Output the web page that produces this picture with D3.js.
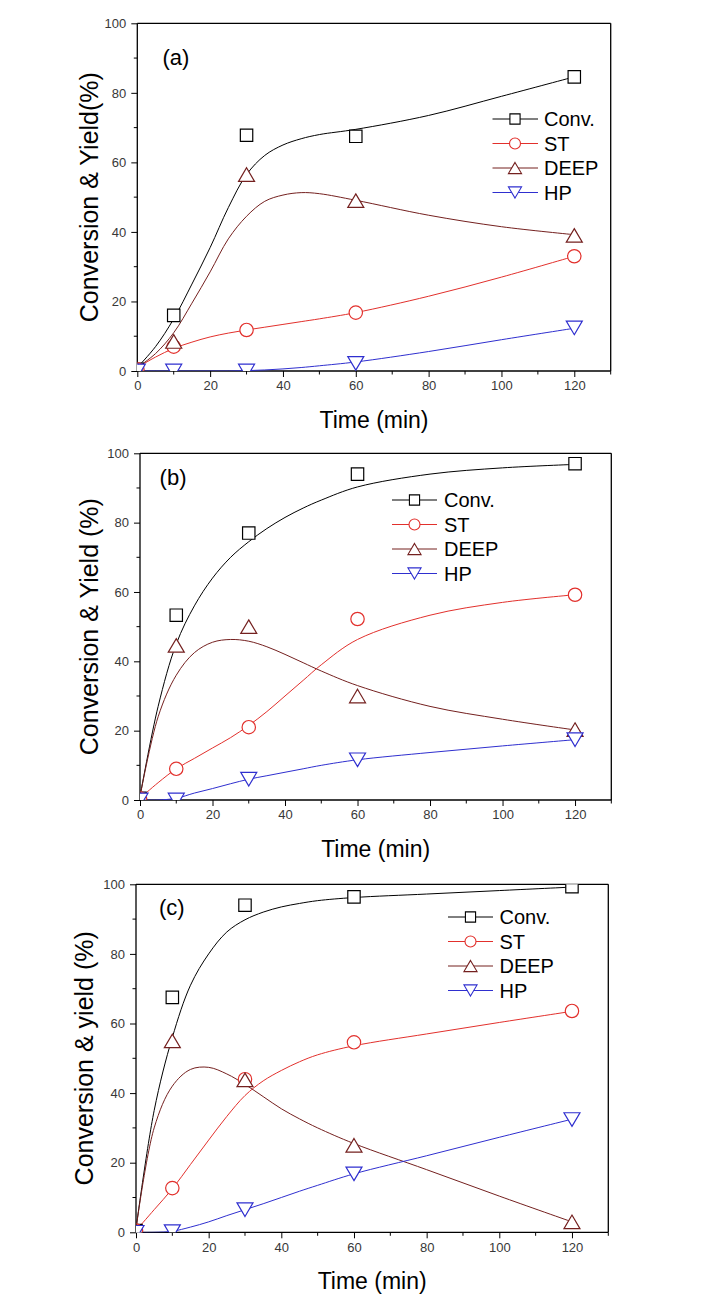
<!DOCTYPE html>
<html><head><meta charset="utf-8">
<script src="https://cdn.jsdelivr.net/npm/d3@7"></script>
<style>
html,body{margin:0;padding:0;background:#fff;}
svg{display:block;font-family:"Liberation Sans",Arial,sans-serif;}
</style></head>
<body>
<svg id="chart" width="719" height="1316"></svg>
<script>
// ---------- data ----------
const times = [0, 10, 30, 60, 120];
const fitTimes = [0, 5, 10, 15, 20, 25, 30, 35, 40, 45, 50, 60, 80, 100, 120];
const xTicks = [0, 20, 40, 60, 80, 100, 120];
const yTicks = [0, 20, 40, 60, 80, 100];
const seriesNames = ["Conv.", "ST", "DEEP", "HP"];
const panelLabels = ["(a)", "(b)", "(c)"];
const yTitles = ["Conversion & Yield(%)", "Conversion & Yield (%)", "Conversion & yield (%)"];
const xTitle = "Time (min)";

// panel (a) measured points
const convA = [0.5, 16, 67.8, 67.5, 84.6];
const stA   = [0.5, 7, 11.8, 16.8, 33];
const deepA = [0.5, 8.5, 56.5, 49, 39];
const hpA   = [0, 0, 0, 2.2, 12.4];
// panel (a) fitted curves
const convFitA = [1, 7, 15, 25, 35.5, 47, 56.5, 62, 65, 66.8, 68, 69.5, 73.5, 79, 84.6];
const stFitA   = [1, 4, 6.5, 8.3, 9.8, 10.9, 11.8, 12.6, 13.4, 14.2, 15, 16.8, 21.5, 27, 33];
const deepFitA = [1, 5, 11, 19.5, 28.5, 38, 44.5, 48.8, 50.6, 51.3, 51, 49.1, 44.8, 41.5, 39.2];
const hpFitA   = [0, 0, 0, 0, 0, 0, 0.1, 0.3, 0.6, 1, 1.5, 2.6, 5.6, 9, 12.3];

// panel (b)
const convB = [0.5, 53.3, 77, 94, 97];
const stB   = [0.5, 9, 21, 52.2, 59.2];
const deepB = [0.5, 44.6, 50, 30, 20.3];
const hpB   = [0, 0, 6, 11.6, 17.4];
const convFitB = [1, 27, 45, 56, 64, 70, 74.5, 78.3, 81.5, 84.2, 86.5, 90.3, 94, 95.8, 96.8];
const stFitB   = [0.5, 5, 9, 12, 15, 18, 21.5, 25.5, 30, 34.5, 39, 46.3, 53.3, 57, 59.2];
const deepFitB = [1, 24, 36, 42.5, 45.5, 46.3, 45.8, 44.2, 42, 39.6, 37.2, 33, 27, 23.3, 20.2];
const hpFitB   = [0, 0, 0.5, 2, 3.3, 4.7, 6, 7, 8, 9, 10, 11.6, 13.7, 15.6, 17.4];

// panel (c)
const convC = [0.5, 67.5, 94, 96.4, 99.3];
const stC   = [0.5, 12.7, 44, 54.6, 63.6];
const deepC = [0.5, 55, 43.8, 25, 3];
const hpC   = [0, 0.2, 6.5, 16.8, 32.4];
const convFitC = [1, 35, 56, 71, 80, 86.3, 89.8, 92, 93.5, 94.5, 95.3, 96.2, 97.2, 98.2, 99.2];
const stFitC   = [0.5, 6.5, 12.5, 19.5, 26.5, 33.3, 39.3, 43.5, 46.5, 49, 51, 53.6, 57, 60.3, 63.5];
const deepFitC = [1, 30, 42, 46.8, 47.4, 45.5, 42.5, 39, 35.5, 32.6, 30, 25.5, 18, 10.4, 3];
const hpFitC   = [0, 0, 0.3, 1.5, 3, 4.8, 6.5, 8.2, 10, 11.8, 13.5, 16.8, 22, 27.3, 32.5];

// ---------- styles / layout ----------
const colors = ["#000000", "#e2302c", "#74201f", "#2f2fcf"];
const symbols = ["square", "circle", "triUp", "triDown"];

const panels = [
  {box:{l:137.3,r:610.7,t:23.3,b:371}, pts:[convA,stA,deepA,hpA], fits:[convFitA,stFitA,deepFitA,hpFitA],
   legend:{x1:492.5,x2:538,mx:515,tx:544,y0:119}, label:{x:162.5,y:65}, ytx:98},
  {box:{l:140,r:611.3,t:453.3,b:800}, pts:[convB,stB,deepB,hpB], fits:[convFitB,stFitB,deepFitB,hpFitB],
   legend:{x1:392,x2:437,mx:414.5,tx:444,y0:500}, label:{x:159.6,y:485}, ytx:98},
  {box:{l:136,r:608.3,t:884.3,b:1232.3}, pts:[convC,stC,deepC,hpC], fits:[convFitC,stFitC,deepFitC,hpFitC],
   legend:{x1:448,x2:493,mx:470.5,tx:499.5,y0:917}, label:{x:159,y:915}, ytx:93}
];

const svg = d3.select("#chart");

function markerPath(type, s) {
  if (type === "square") { const h = 6.2*s; return `M${-h},${-h}H${h}V${h}H${-h}Z`; }
  if (type === "circle") { const r = 6.7*s; return `M${r},0A${r},${r} 0 1,1 ${-r},0A${r},${r} 0 1,1 ${r},0Z`; }
  const w = 8*s, h = 6.8*s;
  if (type === "triUp") return `M0,${-h}L${w},${h}L${-w},${h}Z`;
  return `M0,${h}L${w},${-h}L${-w},${-h}Z`;
}

panels.forEach((p, pi) => {
  const {l, r, t, b} = p.box;
  const x = d3.scaleLinear().domain([0, 130]).range([l, r]);
  const y = d3.scaleLinear().domain([0, 100]).range([b, t]);
  const g = svg.append("g");

  const clipId = "clip" + pi;
  svg.append("clipPath").attr("id", clipId).append("rect")
    .attr("x", l).attr("y", t).attr("width", r - l).attr("height", b - t);

  g.append("line").attr("x1", l).attr("x2", r).attr("y1", t).attr("y2", t).attr("stroke", "#000").attr("stroke-width", 1.3);
  g.append("line").attr("x1", r).attr("x2", r).attr("y1", t).attr("y2", b).attr("stroke", "#000").attr("stroke-width", 1.3);

  const xAxis = d3.axisBottom(x).tickValues(xTicks).tickSize(6).tickPadding(4).tickFormat(d3.format("d"));
  const xg = g.append("g").attr("transform", `translate(0,${b})`).call(xAxis);
  xg.select(".domain").attr("stroke-width", 1.3).attr("d", `M${l},0H${r}`);
  const xMinor = d3.range(10, 131, 20);
  xg.selectAll(".minor").data(xMinor).enter().append("line").attr("class", "minor")
    .attr("x1", d => x(d)).attr("x2", d => x(d)).attr("y1", 0).attr("y2", 3.5).attr("stroke", "#000");

  const yAxis = d3.axisLeft(y).tickValues(yTicks).tickSize(6).tickPadding(5).tickFormat(d3.format("d"));
  const yg = g.append("g").attr("transform", `translate(${l},0)`).call(yAxis);
  yg.select(".domain").attr("stroke-width", 1.3).attr("d", `M0,${b}V${t}`);
  const yMinor = d3.range(10, 100, 20);
  yg.selectAll(".minor").data(yMinor).enter().append("line").attr("class", "minor")
    .attr("y1", d => y(d)).attr("y2", d => y(d)).attr("x1", 0).attr("x2", -3.5).attr("stroke", "#000");

  [xg, yg].forEach(ag => {
    ag.selectAll(".tick text").attr("font-size", 13).attr("fill", "#383838")
      .attr("font-family", "'Liberation Sans', Arial, sans-serif");
    ag.selectAll(".tick line").attr("stroke", "#000");
  });

  const line = d3.line().x((d, i) => x(fitTimes[i])).y(d => y(d)).curve(d3.curveCatmullRom.alpha(0.5));
  const plot = g.append("g").attr("clip-path", `url(#${clipId})`);
  p.fits.forEach((vals, si) => {
    plot.append("path").attr("d", line(vals)).attr("fill", "none")
      .attr("stroke", colors[si]).attr("stroke-width", 1);
  });

  p.pts.forEach((vals, si) => {
    plot.selectAll(null).data(vals).enter().append("path")
      .attr("transform", (d, i) => `translate(${x(times[i])},${y(d)})`)
      .attr("d", markerPath(symbols[si], 1))
      .attr("fill", "#fff").attr("stroke", colors[si]).attr("stroke-width", 1.2);
  });

  const lg = g.append("g");
  seriesNames.forEach((name, si) => {
    const yy = p.legend.y0 + si * 24.5;
    lg.append("line").attr("x1", p.legend.x1).attr("x2", p.legend.x2).attr("y1", yy).attr("y2", yy)
      .attr("stroke", colors[si]).attr("stroke-width", 1);
    lg.append("path").attr("transform", `translate(${p.legend.mx},${yy})`)
      .attr("d", markerPath(symbols[si], 0.82)).attr("fill", "#fff")
      .attr("stroke", colors[si]).attr("stroke-width", 1.1);
    lg.append("text").attr("x", p.legend.tx).attr("y", yy).attr("dy", "0.36em")
      .attr("font-size", 20).attr("fill", "#000").text(name);
  });

  g.append("text").attr("x", p.label.x).attr("y", p.label.y).attr("font-size", 22).attr("fill", "#000")
    .text(panelLabels[pi]);

  g.append("text").attr("x", (l + r) / 2).attr("y", b + 57).attr("text-anchor", "middle")
    .attr("font-size", 23).attr("fill", "#000").text(xTitle);
  g.append("text").attr("transform", `translate(${p.ytx},${(t + b) / 2}) rotate(-90)`)
    .attr("text-anchor", "middle").attr("font-size", 25).attr("fill", "#000").text(yTitles[pi]);
});
</script>
</body></html>
